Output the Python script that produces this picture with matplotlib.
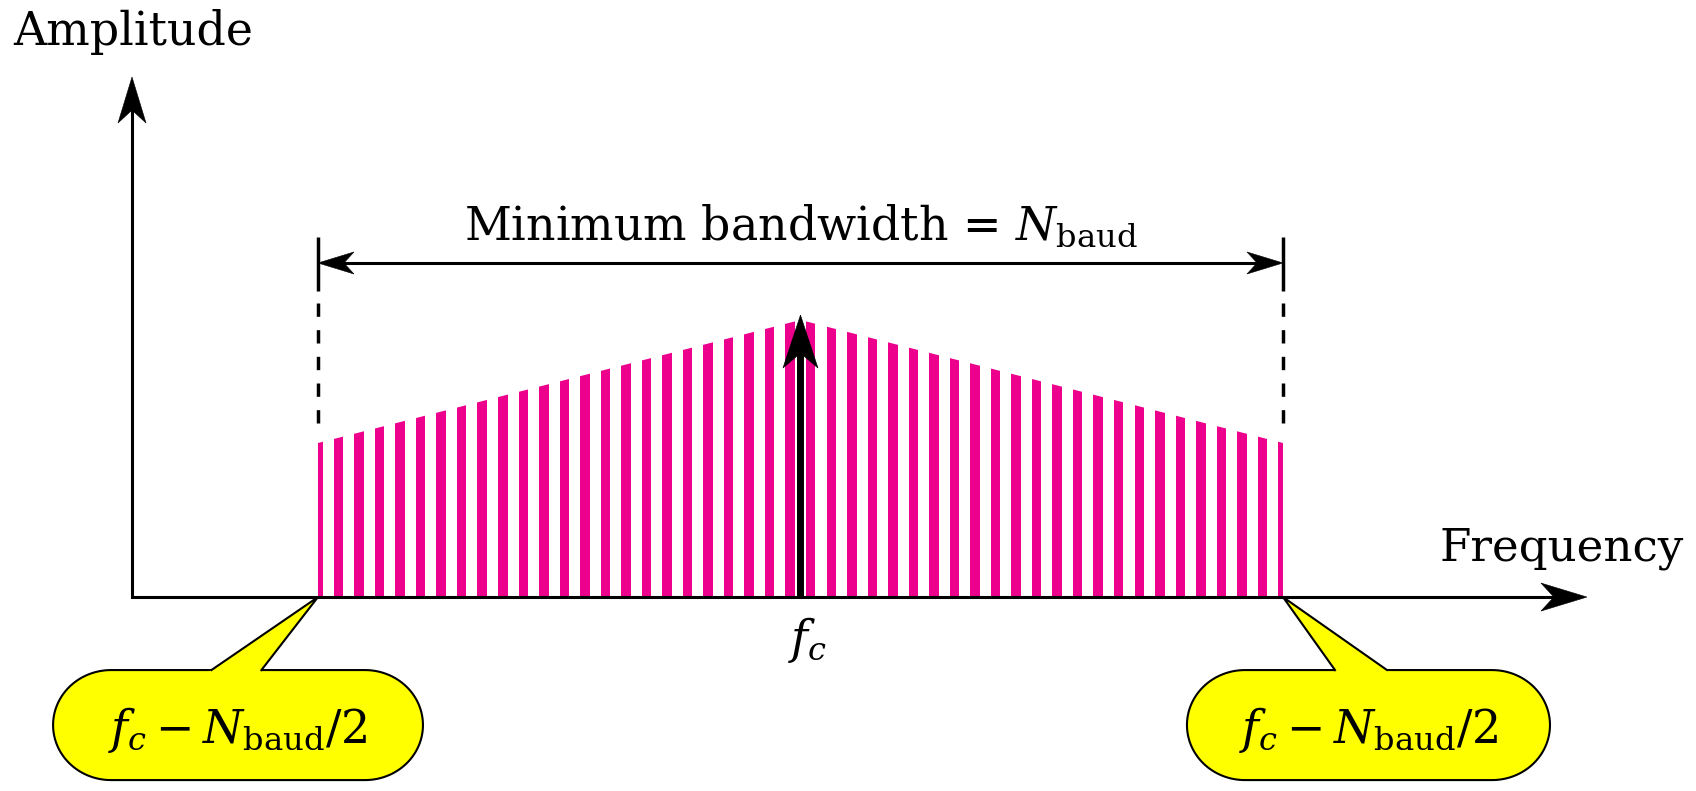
import numpy as np
import matplotlib.pyplot as plt
import matplotlib.transforms as mtransforms
from matplotlib.patches import Polygon

plt.rcParams['font.family'] = 'DejaVu Serif'
plt.rcParams['mathtext.fontset'] = 'dejavuserif'

# Spectrum envelope: frequency offset from the carrier (units of N_baud) and relative amplitude
freq = [-0.5, 0.0, 0.5]
amp = [0.556, 1.0, 0.556]
carrier_f = 0.0
carrier_amp = 1.018
n_stripes = 48

edge_label = '$f_c - N_{\\mathrm{baud}}/2$'
bw_label = 'Minimum bandwidth = $N_{\\mathrm{baud}}$'

PINK = '#EC008C'
YELLOW = '#FFFF00'
FS = 33

fig = plt.figure(figsize=(16.96, 7.91), dpi=100)
ax = fig.add_axes([0, 0, 1, 1])
ax.set_xlim(-0.8295, 0.928)
ax.set_ylim(-0.700, 2.155)
ax.axis('off')

# size of one pixel in data units along each direction
PX_X = 1 / 965
PX_Y = 1 / 277


def head(x, y, angle, length, width, z=6):
    """Stealth arrow head (sizes in pixels) with its tip at data point (x, y)."""
    t = np.deg2rad(angle)
    rot = np.array([[np.cos(t), -np.sin(t)], [np.sin(t), np.cos(t)]])
    shape = np.array([[0, 0], [-length, width / 2], [-0.72 * length, 0],
                      [-length, -width / 2]])
    pts = shape @ rot.T / fig.dpi
    tr = fig.dpi_scale_trans + mtransforms.ScaledTranslation(x, y, ax.transData)
    ax.add_patch(Polygon(pts, closed=True, fc='k', ec='k', lw=0.4,
                         transform=tr, zorder=z))


# axes with arrow heads
xa, ytop, xend = -0.6927, 1.877, 0.815
ax.plot([xa, xa, xend - 0.7 * 46 * PX_X], [ytop - 0.7 * 46 * PX_Y, 0, 0],
        color='k', lw=2.2, solid_joinstyle='miter', solid_capstyle='butt', zorder=5)
head(xa, ytop, 90, 46, 28)
head(xend, 0, 0, 46, 28)
ax.text(-0.8161, 1.993, 'Amplitude', ha='left', va='baseline', fontsize=FS)
ax.text(0.6627, 0.1336, 'Frequency', ha='left', va='baseline', fontsize=32.5)

# striped spectrum, clipped to the envelope
lo, hi = freq[0], freq[-1]
env = Polygon([(lo, 0)] + list(zip(freq, amp)) + [(hi, 0)], closed=True,
              fc='none', ec='none')
ax.add_patch(env)
centers = np.linspace(lo, hi, n_stripes)
bars = ax.bar(centers, max(amp) * 1.1, width=9.5 * PX_X, color=PINK, lw=0, zorder=2)
for b in bars:
    b.set_clip_path(env)

# carrier arrow
ax.plot([carrier_f, carrier_f], [0, carrier_amp - 0.7 * 53 * PX_Y], color='k',
        lw=5, solid_capstyle='butt', zorder=5)
head(carrier_f, carrier_amp, 90, 53, 35)
ax.text(carrier_f + 0.0078, -0.065, '$f_c$', ha='center', va='top', fontsize=FS)

# bandwidth marker
y_bw = 1.2058
for f in (lo, hi):
    ax.plot([f, f], [1.2996, 1.1047], color='k', lw=2.5, solid_capstyle='butt')
    ax.plot([f, f], [1.0614, 0.6282], color='k', lw=2.5, dashes=(3.84, 3.84),
            dash_capstyle='butt')
ax.plot([lo + 0.7 * 36 * PX_X, hi - 0.7 * 36 * PX_X], [y_bw, y_bw], color='k',
        lw=2.2, solid_capstyle='butt')
head(lo, y_bw, 180, 36, 22)
head(hi, y_bw, 0, 36, 22)
ax.text((lo + hi) / 2, 1.289, bw_label, ha='center', va='baseline', fontsize=FS)


def callout(x0, x1, tip_x, base_l, base_r, text):
    y0, y1 = -0.6606, -0.2635
    rx = 58 * PX_X
    ry = (y1 - y0) / 2
    yc = (y0 + y1) / 2
    # rounded box with half-ellipse ends
    t = np.linspace(np.pi / 2, -np.pi / 2, 60)
    right = np.column_stack([x1 - rx + rx * np.cos(t), yc + ry * np.sin(t)])
    left = np.column_stack([x0 + rx - rx * np.cos(t), yc - ry * np.sin(t)])
    ax.add_patch(Polygon(np.vstack([right, left]), closed=True, fc=YELLOW,
                         ec='k', lw=1.5, zorder=3))
    # pointer: fill reaches a little into the box to hide its outline there
    dy = 6 * PX_Y
    sl = (base_l - tip_x) / y1
    sr = (base_r - tip_x) / y1
    ax.add_patch(Polygon([(tip_x + sl * (y1 - dy), y1 - dy), (tip_x, 0),
                          (tip_x + sr * (y1 - dy), y1 - dy)],
                         closed=True, fc=YELLOW, ec='none', zorder=3.5))
    ax.plot([base_l, tip_x, base_r], [y1, 0, y1], color='k', lw=1.5,
            solid_joinstyle='miter', zorder=3.6)
    ax.text((x0 + x1) / 2, -0.527, text, ha='center', va='baseline',
            fontsize=FS, zorder=4)


callout(-0.7745, -0.3912, lo, -0.6104, -0.5586, edge_label)
callout(0.4005, 0.7767, hi, 0.5539, 0.6078, edge_label)

fig.savefig('out.png', dpi=100)
